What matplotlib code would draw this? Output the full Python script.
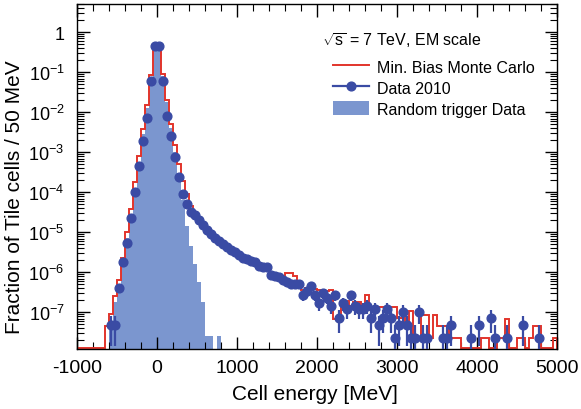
import numpy as np
import matplotlib
matplotlib.use("Agg")
import matplotlib.pyplot as plt
from matplotlib.ticker import FixedLocator, LogLocator, FuncFormatter, NullFormatter
from matplotlib.patches import Patch
from matplotlib.lines import Line2D

plt.rcParams['font.family'] = ['Liberation Sans', 'DejaVu Sans']
plt.rcParams['mathtext.fontset'] = 'custom'
plt.rcParams['mathtext.rm'] = 'Liberation Sans'
plt.rcParams['mathtext.it'] = 'Liberation Sans:italic'
plt.rcParams['axes.unicode_minus'] = False

# ---------------- data (log10 of fraction per 50 MeV bin) ----------------
bin_edges = np.arange(-1000, 5001, 50)

# Min. Bias Monte Carlo, one value per bin from -1000 to 5000 (None = empty)
mc_log10 = [
    None, None, None, None, None, None, None, -7.35, -7.05, -6.6,
    -6.2, -5.63, -5.0, -4.42, -3.75, -3.1, -2.42, -1.81, -1.07, -0.33,
    -0.33, -1.04, -1.69, -2.29, -2.82, -3.28, -3.72, -4.05, -4.33, -4.5,
    -4.65, -4.78, -4.9, -5.02, -5.1, -5.18, -5.26, -5.34, -5.41, -5.48,
    -5.55, -5.62, -5.66, -5.7, -5.72, -5.8, -5.84, -5.86, -6.03, -6.08,
    -6.12, -6.18, -6.02, -6.02, -6.1, -6.3, -6.45, -6.4, -6.35, -6.42,
    -6.45, -6.45, -6.47, -6.45, -7.17, -7.17, -6.72, -6.72, -6.85, -6.75,
    -6.75, -6.9, -6.57, -6.92, -6.9, -6.87, -6.87, -7.0, -6.87, -6.87,
    -7.15, -7.15, -7.35, -6.96, -7.63, -7.63, -7.07, -7.07, -7.63, -7.07,
    -7.35, -7.35, -7.35, -7.63, -7.63, -7.63, None, None, None, None,
    None, -7.63, -7.63, None, None, -7.63, -7.63, -7.17, None, None,
    -7.63, -7.63, None, -7.63, -7.35, -7.35, None, None, None, -7.63,
]

# Random trigger data, bins from -600 to 800
rnd_edges_lo = -600
rnd_log10 = [
    -7.35, -6.75, -6.35, -5.75, -5.15, -4.55, -3.9, -3.25, -2.55, -1.9,
    -1.15, -0.36, -0.36, -1.1, -1.75, -2.4, -3.0, -3.6, -4.2, -4.83,
    -5.35, -5.79, -6.25, -6.75, -7.6, -7.6, None, -7.6,
]

# Data 2010: bin centres and log10 fraction
data_centres = [
    -575, -525, -475, -425, -375, -325, -275, -225, -175, -125,
    -75, -25, 25, 75, 125, 175, 225, 275, 325, 375,
    425, 475, 525, 575, 625, 675, 725, 775, 825, 875,
    925, 975, 1025, 1075, 1125, 1175, 1225, 1275, 1325, 1375,
    1425, 1475, 1525, 1575, 1625, 1675, 1725, 1775, 1825, 1875,
    1925, 1975, 2025, 2075, 2125, 2175, 2225, 2275, 2325, 2375,
    2425, 2475, 2525, 2575, 2625, 2675, 2725, 2775, 2825, 2875,
    2925, 2975, 3025, 3075, 3125, 3175, 3225, 3275, 3325, 3375,
    3575, 3625, 3675, 3925, 4025, 4175, 4225, 4375, 4575, 4775,
]
data_log10 = [
    -7.32, -7.32, -6.4, -5.75, -5.27, -4.65, -4.0, -3.33, -2.71, -2.15,
    -1.225, -0.35, -0.35, -1.21, -2.09, -2.6, -3.11, -3.62, -4.03, -4.29,
    -4.48, -4.57, -4.69, -4.82, -4.93, -5.05, -5.13, -5.21, -5.29, -5.36,
    -5.43, -5.5, -5.57, -5.65, -5.67, -5.71, -5.73, -5.83, -5.86, -5.87,
    -6.07, -6.1, -6.12, -6.2, -6.25, -6.3, -6.29, -6.28, -6.57, -6.46,
    -6.33, -6.57, -6.77, -6.52, -6.63, -6.83, -6.57, -7.15, -6.77, -6.92,
    -6.57, -6.85, -6.92, -6.92, -6.83, -7.15, -6.92, -7.32, -7.15, -6.92,
    -7.15, -7.63, -7.32, -7.0, -7.32, -7.63, -7.63, -7.0, -7.63, -7.63,
    -7.63, -7.63, -7.32, -7.63, -7.32, -7.15, -7.63, -7.63, -7.32, -7.63,
]
single_entry_fraction = 2.34e-8  # fraction corresponding to one cell

# ---------------- styling ----------------
RED = '#e2342b'
BLUE = '#3a4ba4'
FILL = '#7b96cf'
Y_LO, Y_HI = 1.21e-8, 5.1

fig = plt.figure(figsize=(5.81, 4.10), dpi=100)
ax = fig.add_axes([77 / 581, 1 - 350 / 410, 480 / 581, 345 / 410])
ax.set_yscale('log')

# random trigger (filled)
rnd_vals = np.array([np.nan if v is None else 10.0 ** v for v in rnd_log10])
rnd_e = rnd_edges_lo + 50 * np.arange(len(rnd_log10) + 1)
ax.stairs(np.nan_to_num(rnd_vals, nan=1e-14), rnd_e, fill=True, color=FILL,
          baseline=1e-14, zorder=1, linewidth=0)

# MC step
mc_vals = np.array([Y_LO * 1.03 if v is None else 10.0 ** v for v in mc_log10])
ax.stairs(mc_vals, bin_edges, color=RED, linewidth=1.4, zorder=2)

# data points
dv = 10.0 ** np.array(data_log10)
err = np.sqrt(dv * single_entry_fraction)
err_lo = np.minimum(err, dv * 0.99999)
ax.errorbar(data_centres, dv, yerr=[err_lo, err], fmt='o', color=BLUE,
            markersize=6.3, elinewidth=1.6, capsize=0, zorder=3)

ax.set_xlim(-1000, 5000)
ax.set_ylim(Y_LO, Y_HI)

ax.xaxis.set_major_locator(FixedLocator([-1000, 0, 1000, 2000, 3000, 4000, 5000]))
ax.xaxis.set_minor_locator(FixedLocator(np.arange(-1000, 5001, 200)))
ax.yaxis.set_major_locator(LogLocator(base=10, numticks=20))
ax.yaxis.set_minor_locator(LogLocator(base=10, subs=np.arange(2, 10), numticks=20))
ax.yaxis.set_minor_formatter(NullFormatter())


def yfmt(v, pos):
    e = int(round(np.log10(v)))
    if e == 0:
        return '1'
    return r'$\mathregular{10^{%d}}$' % e


ax.yaxis.set_major_formatter(FuncFormatter(yfmt))

ax.tick_params(which='both', direction='in', top=True, right=True)
ax.tick_params(which='major', length=9, width=1.0)
ax.tick_params(which='minor', length=5, width=0.8)
ax.tick_params(axis='x', which='major', labelsize=14, pad=7)
ax.tick_params(axis='y', which='major', labelsize=13, pad=9)
for s in ax.spines.values():
    s.set_linewidth(1.0)

fig.text(15 / 581, 1 - 197 / 410, 'Fraction of Tile cells / 50 MeV', rotation=90,
         ha='center', va='center', fontsize=15)
fig.text(315 / 581, 1 - 395 / 410, 'Cell energy [MeV]', ha='center', va='center',
         fontsize=15)

fig.text(322 / 581, 1 - 41 / 410, r'$\sqrt{\mathregular{s}}$ = 7 TeV, EM scale',
         ha='left', va='center', fontsize=11.5)

handles = [
    Line2D([], [], color=RED, linewidth=1.4),
    Line2D([], [], color=BLUE, linewidth=1.6, marker='o', markersize=6.3),
    Patch(facecolor=FILL, edgecolor='none'),
]
labels = ['Min. Bias Monte Carlo', 'Data 2010', 'Random trigger Data']
fig.legend(handles, labels, loc='upper left',
           bbox_to_anchor=(333 / 581, 1 - 60 / 410), frameon=False,
           fontsize=11.5, handlelength=2.25, handletextpad=0.5,
           labelspacing=0.34, borderpad=0, borderaxespad=0, handleheight=1.0)

fig.savefig('out.png', dpi=100)
